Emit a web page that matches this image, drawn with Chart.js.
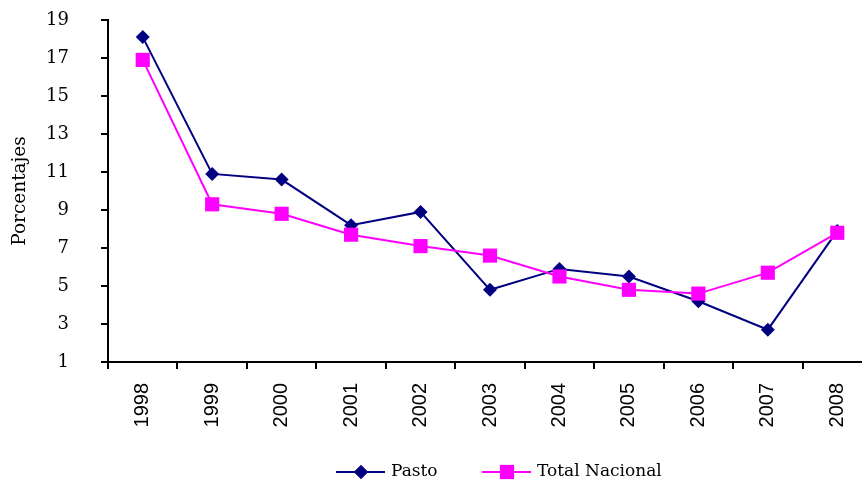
<!DOCTYPE html>
<html lang="es">
<head>
<meta charset="utf-8">
<title>Pasto vs Total Nacional</title>
<script src="https://cdn.jsdelivr.net/npm/chart.js@4"></script>
<style>
  html, body { margin: 0; padding: 0; background: #fff; }
  #wrap { width: 862px; height: 483px; overflow: hidden; position: relative; }
  canvas { display: block; }
</style>
</head>
<body>
<div id="wrap"><canvas id="grafico" width="882" height="483"></canvas></div>
<script>
// ====== Datos ======
const years         = ["1998","1999","2000","2001","2002","2003","2004","2005","2006","2007","2008"];
const pasto         = [18.1, 10.9, 10.6, 8.2, 8.9, 4.8, 5.9, 5.5, 4.2, 2.7, 7.9];
const totalNacional = [16.9, 9.3, 8.8, 7.7, 7.1, 6.6, 5.5, 4.8, 4.6, 5.7, 7.8];
const yTicks        = [1, 3, 5, 7, 9, 11, 13, 15, 17, 19];

const NAVY = "#000080";
const MAGENTA = "#FF00FF";
const SERIF = "'DejaVu Serif', serif";

// ====== Leyenda dibujada a mano (línea + marcador) ======
const leyenda = {
  id: "leyenda",
  afterDraw(chart) {
    const ctx = chart.ctx;
    const y = 472;
    const items = [
      { x: 336, label: "Pasto", color: NAVY, style: "rectRot", r: 7 },
      { x: 482, label: "Total Nacional", color: MAGENTA, style: "rect", r: 10 }
    ];
    ctx.save();
    items.forEach(it => {
      ctx.strokeStyle = it.color;
      ctx.lineWidth = 2;
      ctx.beginPath();
      ctx.moveTo(it.x, y);
      ctx.lineTo(it.x + 49, y);
      ctx.stroke();
      ctx.fillStyle = it.color;
      Chart.helpers.drawPoint(ctx, { pointStyle: it.style, radius: it.r, borderWidth: 0 }, it.x + 25, y);
      ctx.fill();
      ctx.fillStyle = "#000";
      ctx.font = "17px " + SERIF;
      ctx.textBaseline = "middle";
      ctx.textAlign = "left";
      ctx.fillText(it.label, it.x + 55, y);
    });
    ctx.restore();
  }
};

// ====== Gráfico ======
new Chart(document.getElementById("grafico"), {
  type: "line",
  data: {
    labels: years,
    datasets: [
      {
        label: "Pasto",
        data: pasto,
        borderColor: NAVY,
        backgroundColor: NAVY,
        borderWidth: 2,
        pointStyle: "rectRot",
        pointRadius: 7,
        pointBorderWidth: 0,
        tension: 0,
        order: 1
      },
      {
        label: "Total Nacional",
        data: totalNacional,
        borderColor: MAGENTA,
        backgroundColor: MAGENTA,
        borderWidth: 2,
        pointStyle: "rect",
        pointRadius: 10,
        pointBorderWidth: 0,
        tension: 0,
        order: 0
      }
    ]
  },
  options: {
    responsive: false,
    animation: false,
    layout: { padding: { top: 20, right: 0, bottom: 0, left: 0 } },
    plugins: {
      legend: { display: false },
      tooltip: { enabled: false }
    },
    scales: {
      x: {
        offset: true,
        grid: {
          offset: true,
          drawOnChartArea: false,
          drawTicks: true,
          tickLength: 7,
          color: "#000",
          lineWidth: 2
        },
        border: { display: true, color: "#000", width: 2 },
        ticks: {
          color: "#000",
          font: { family: "'Liberation Sans', Arial, sans-serif", size: 20 },
          minRotation: 90,
          maxRotation: 90,
          padding: 14
        },
        afterFit(scale) { scale.height = 121; }
      },
      y: {
        min: 1,
        max: 19,
        afterBuildTicks(scale) { scale.ticks = yTicks.map(v => ({ value: v })); },
        grid: {
          drawOnChartArea: false,
          drawTicks: true,
          tickLength: 7,
          color: "#000",
          lineWidth: 2
        },
        border: { display: true, color: "#000", width: 2 },
        ticks: {
          color: "#000",
          font: { family: SERIF, size: 18 },
          padding: 32
        },
        title: {
          display: true,
          text: "Porcentajes",
          color: "#000",
          font: { family: SERIF, size: 18.5 },
          padding: { top: 9, bottom: 0 }
        },
        afterFit(scale) {
          scale.width = 108;
          scale.paddingTop = 0;
          scale.paddingBottom = 0;
        }
      }
    }
  },
  plugins: [leyenda]
});
</script>
</body>
</html>
